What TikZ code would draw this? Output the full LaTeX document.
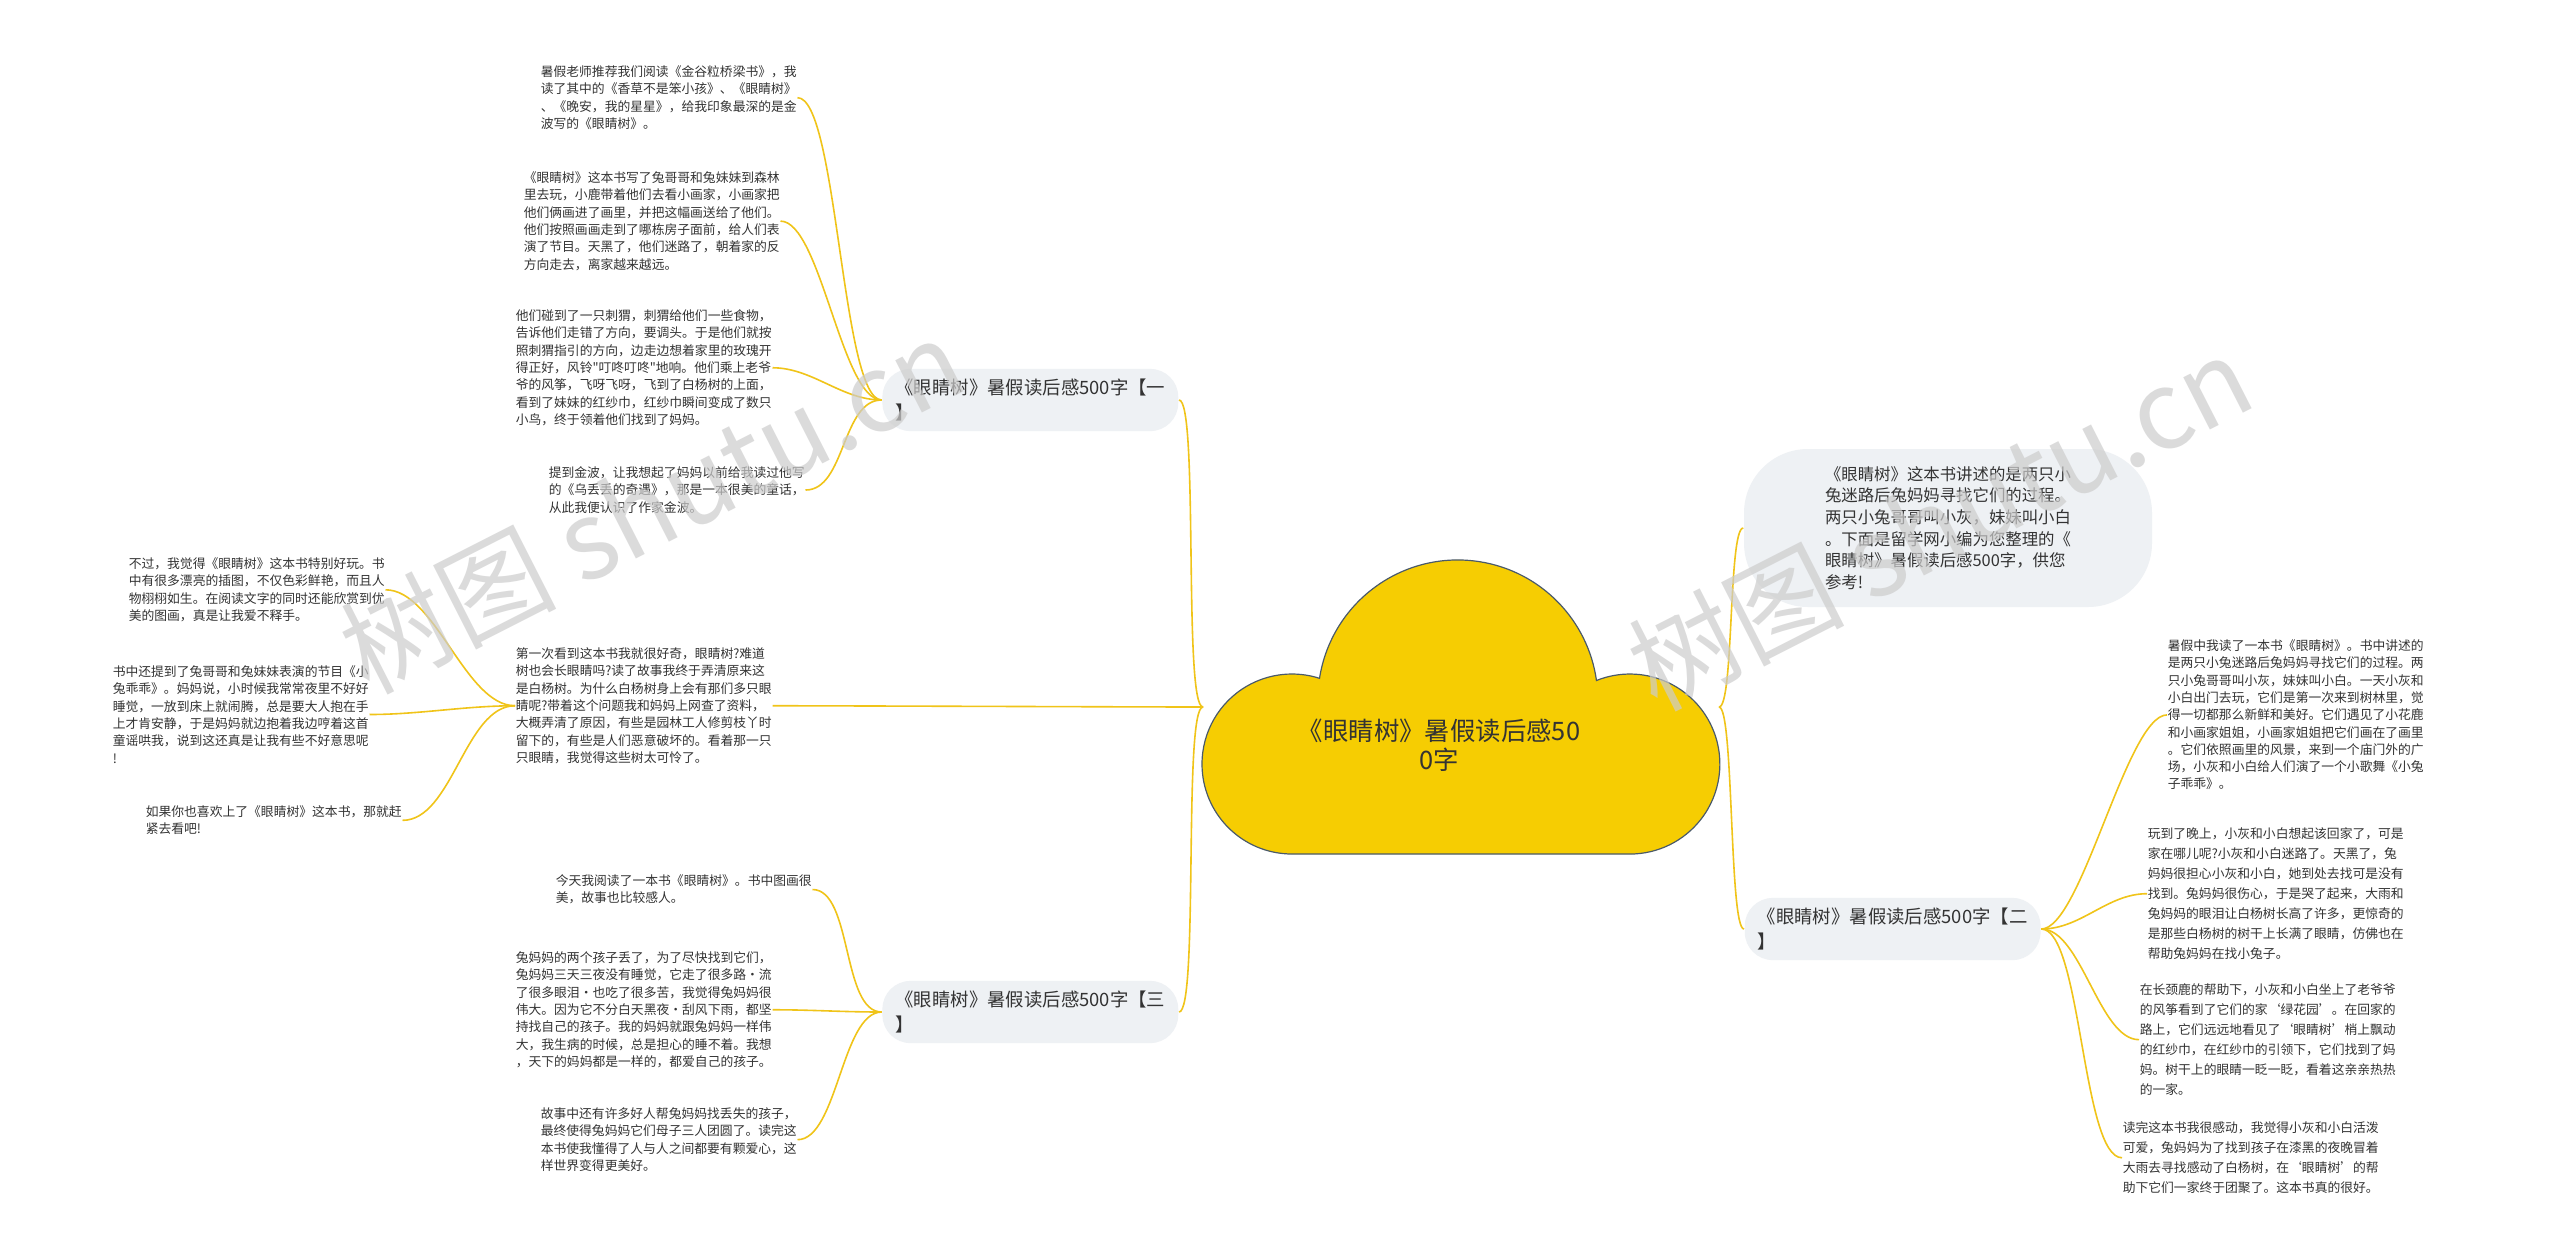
\documentclass[tikz,border=0pt]{standalone}
\usepackage{fontspec}
\newfontfamily\cjk{Noto Sans CJK SC}
\usetikzlibrary{positioning}
\definecolor{cloudfill}{HTML}{F6CD02}
\definecolor{cloudline}{HTML}{4A5A6A}
\definecolor{bubble}{HTML}{EEF1F4}
\definecolor{ink}{HTML}{333333}
\definecolor{linkcol}{HTML}{F0C419}
\definecolor{wmgray}{HTML}{CCCCCC}

\tikzset{every picture/.style={line width=0.75pt},
  leaf/.style={inner sep=0pt,anchor=north west,align=left,text=ink,font=\cjk\fontsize{6.4}{8.65}\selectfont},
  wideleaf/.style={leaf,font=\cjk\fontsize{6.4}{10}\selectfont},
  topic/.style={fill=bubble,rounded corners=14pt,inner xsep=6.5pt,inner ysep=5pt,align=left,text=ink,font=\cjk\fontsize{9.2}{12.5}\selectfont},
  link/.style={draw=linkcol,line width=0.8pt},
  wmark/.style={text=wmgray,text opacity=0.7,font=\cjk\fontsize{54}{54}\selectfont,rotate=27}}

\begin{document}
\begin{tikzpicture}[x=0.5pt,y=0.5pt,yscale=-1,xscale=1]
\useasboundingbox[fill=white] (0,0) rectangle (2560,1249);

% left side
\node[topic,anchor=east] (br1) at (1179,400) {《眼睛树》暑假读后感500字【一\\】};
\node[topic,anchor=east] (br3) at (1179,1012) {《眼睛树》暑假读后感500字【三\\】};
\node[leaf] (l1a) at (540,65) {暑假老师推荐我们阅读《金谷粒桥梁书》，我\\读了其中的《香草不是笨小孩》、《眼睛树》\\、《晚安，我的星星》，给我印象最深的是金\\波写的《眼睛树》。};
\node[leaf] (l1b) at (523,171) {《眼睛树》这本书写了兔哥哥和兔妹妹到森林\\里去玩，小鹿带着他们去看小画家，小画家把\\他们俩画进了画里，并把这幅画送给了他们。\\他们按照画画走到了哪栋房子面前，给人们表\\演了节目。天黑了，他们迷路了，朝着家的反\\方向走去，离家越来越远。};
\node[leaf] (l1c) at (515,309) {他们碰到了一只刺猬，刺猬给他们一些食物，\\告诉他们走错了方向，要调头。于是他们就按\\照刺猬指引的方向，边走边想着家里的玫瑰开\\得正好，风铃"叮咚叮咚"地响。他们乘上老爷\\爷的风筝，飞呀飞呀，飞到了白杨树的上面，\\看到了妹妹的红纱巾，红纱巾瞬间变成了数只\\小鸟，终于领着他们找到了妈妈。};
\node[leaf] (l1d) at (548,466) {提到金波，让我想起了妈妈以前给我读过他写\\的《乌丢丢的奇遇》，那是一本很美的童话，\\从此我便认识了作家金波。};
\node[leaf] (mid) at (515,647) {第一次看到这本书我就很好奇，眼睛树?难道\\树也会长眼睛吗?读了故事我终于弄清原来这\\是白杨树。为什么白杨树身上会有那们多只眼\\睛呢?带着这个问题我和妈妈上网查了资料，\\大概弄清了原因，有些是园林工人修剪枝丫时\\留下的，有些是人们恶意破坏的。看着那一只\\只眼睛，我觉得这些树太可怜了。};
\node[leaf] (fl1) at (128,557) {不过，我觉得《眼睛树》这本书特别好玩。书\\中有很多漂亮的插图，不仅色彩鲜艳，而且人\\物栩栩如生。在阅读文字的同时还能欣赏到优\\美的图画，真是让我爱不释手。};
\node[leaf] (fl2) at (112,665) {书中还提到了兔哥哥和兔妹妹表演的节目《小\\兔乖乖》。妈妈说，小时候我常常夜里不好好\\睡觉，一放到床上就闹腾，总是要大人抱在手\\上才肯安静，于是妈妈就边抱着我边哼着这首\\童谣哄我，说到这还真是让我有些不好意思呢\\!};
\node[leaf] (fl3) at (145,805) {如果你也喜欢上了《眼睛树》这本书，那就赶\\紧去看吧!};
\node[leaf] (l3a) at (555,874) {今天我阅读了一本书《眼睛树》。书中图画很\\美，故事也比较感人。};
\node[leaf] (l3b) at (515,951) {兔妈妈的两个孩子丢了，为了尽快找到它们，\\兔妈妈三天三夜没有睡觉，它走了很多路·流\\了很多眼泪·也吃了很多苦，我觉得兔妈妈很\\伟大。因为它不分白天黑夜·刮风下雨，都坚\\持找自己的孩子。我的妈妈就跟兔妈妈一样伟\\大，我生病的时候，总是担心的睡不着。我想\\，天下的妈妈都是一样的，都爱自己的孩子。};
\node[leaf] (l3c) at (540,1107) {故事中还有许多好人帮兔妈妈找丢失的孩子，\\最终使得兔妈妈它们母子三人团圆了。读完这\\本书使我懂得了人与人之间都要有颗爱心，这\\样世界变得更美好。};

% right side
\node[fill=bubble,rounded corners=32pt,minimum width=204pt,minimum height=79pt,align=left,text=ink,font=\cjk\fontsize{8.2}{10.85}\selectfont] (intro) at (1948,528) {《眼睛树》这本书讲述的是两只小\\兔迷路后兔妈妈寻找它们的过程。\\两只小兔哥哥叫小灰，妹妹叫小白\\。下面是留学网小编为您整理的《\\眼睛树》暑假读后感500字，供您\\参考!};
\node[topic,anchor=west] (br2) at (1744,929) {《眼睛树》暑假读后感500字【二\\】};
\node[leaf] (r1) at (2167,639) {暑假中我读了一本书《眼睛树》。书中讲述的\\是两只小兔迷路后兔妈妈寻找它们的过程。两\\只小兔哥哥叫小灰，妹妹叫小白。一天小灰和\\小白出门去玩，它们是第一次来到树林里，觉\\得一切都那么新鲜和美好。它们遇见了小花鹿\\和小画家姐姐，小画家姐姐把它们画在了画里\\。它们依照画里的风景，来到一个庙门外的广\\场，小灰和小白给人们演了一个小歌舞《小兔\\子乖乖》。};
\node[wideleaf] (r2) at (2147,827) {玩到了晚上，小灰和小白想起该回家了，可是\\家在哪儿呢?小灰和小白迷路了。天黑了，兔\\妈妈很担心小灰和小白，她到处去找可是没有\\找到。兔妈妈很伤心，于是哭了起来，大雨和\\兔妈妈的眼泪让白杨树长高了许多，更惊奇的\\是那些白杨树的树干上长满了眼睛，仿佛也在\\帮助兔妈妈在找小兔子。};
\node[wideleaf] (r3) at (2139,983) {在长颈鹿的帮助下，小灰和小白坐上了老爷爷\\的风筝看到了它们的家‘绿花园’。在回家的\\路上，它们远远地看见了‘眼睛树’梢上飘动\\的红纱巾，在红纱巾的引领下，它们找到了妈\\妈。树干上的眼睛一眨一眨，看着这亲亲热热\\的一家。};
\node[wideleaf] (r4) at (2122,1121) {读完这本书我很感动，我觉得小灰和小白活泼\\可爱，兔妈妈为了找到孩子在漆黑的夜晚冒着\\大雨去寻找感动了白杨树，在‘眼睛树’的帮\\助下它们一家终于团聚了。这本书真的很好。};

\coordinate (rootW) at (1203,707);
\coordinate (rootE) at (1719,707);
% connectors
\draw[link] (rootW) .. controls +(-20,0) and +(20,0) .. (br1.east);
\draw[link] (rootW) .. controls +(-20,0) and +(20,0) .. (br3.east);
\draw[link] (rootW) .. controls +(-60,0) and +(60,0) .. (mid.east);
\draw[link] (rootE) .. controls +(15,0) and +(-15,0) .. (intro.west);
\draw[link] (rootE) .. controls +(15,0) and +(-15,0) .. (br2.west);
\draw[link] (br1.west) .. controls +(-40,0) and +(40,0) .. (l1a.east);
\draw[link] (br1.west) .. controls +(-40,0) and +(40,0) .. (l1b.east);
\draw[link] (br1.west) .. controls +(-40,0) and +(40,0) .. (l1c.east);
\draw[link] (br1.west) .. controls +(-40,0) and +(40,0) .. (l1d.east);
\draw[link] (mid.west) .. controls +(-50,0) and +(50,0) .. (fl1.east);
\draw[link] (mid.west) .. controls +(-50,0) and +(50,0) .. (fl2.east);
\draw[link] (mid.west) .. controls +(-50,0) and +(50,0) .. (fl3.east);
\draw[link] (br3.west) .. controls +(-40,0) and +(40,0) .. (l3a.east);
\draw[link] (br3.west) .. controls +(-40,0) and +(40,0) .. (l3b.east);
\draw[link] (br3.west) .. controls +(-40,0) and +(40,0) .. (l3c.east);
\draw[link] (br2.east) .. controls +(40,0) and +(-40,0) .. (r1.west);
\draw[link] (br2.east) .. controls +(40,0) and +(-40,0) .. (r2.west);
\draw[link] (br2.east) .. controls +(40,0) and +(-40,0) .. (r3.west);
\draw[link] (br2.east) .. controls +(40,0) and +(-40,0) .. (r4.west);

% cloud
\draw[fill=cloudfill,draw=cloudline,line width=0.6pt] (1292,854)
  arc[start angle=90,end angle=287.8,radius=90]
  arc[start angle=188.9,end angle=352,radius=140]
  arc[start angle=248.2,end angle=450,radius=90] -- cycle;
\node[text=ink,align=center,font=\cjk\fontsize{12.7}{14.7}\selectfont] (root) at (1439,745) {《眼睛树》暑假读后感50\\0字};

% watermark
\node[wmark] (wm1) at (652,505) {树图 shutu.cn};
\node[wmark] (wm2) at (1940,522) {树图 shutu.cn};
\end{tikzpicture}
\end{document}
